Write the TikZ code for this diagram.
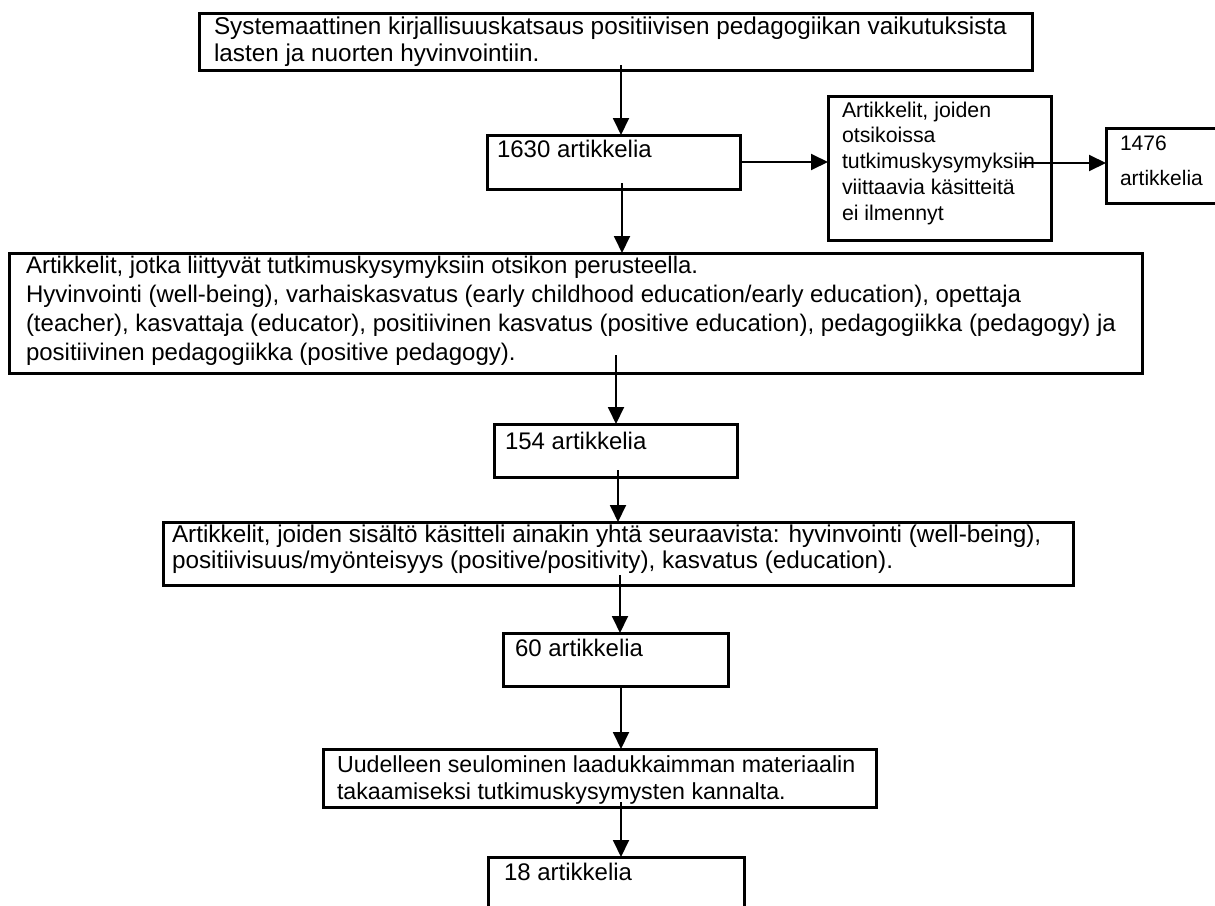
\documentclass[tikz,border=0pt]{standalone}
\usepackage{fontspec}
\setmainfont{Liberation Sans}
\usetikzlibrary{arrows.meta,fit}
% left-aligned block of lines whose baseline is the first line
\newcommand\rows[1]{\begin{tabular}[t]{@{}l@{}}#1\end{tabular}}
\begin{document}
\begin{tikzpicture}[x=1pt,y=-1pt,
  box/.style={draw=black, line width=3pt, inner sep=0pt, outer sep=0pt},
  txt/.style={anchor=base west, inner sep=0pt, outer sep=0pt, text=black},
  big/.style={txt, font=\fontsize{24}{#1}\selectfont},
  arr/.style={draw=black, line width=1.9pt, -{Triangle[width=16pt,length=17pt]}}]
\useasboundingbox (0,0) rectangle (1215,905);
\clip (0,0) rectangle (1215,905);
\fill[white] (0,0) rectangle (1215,905);

% boxes
\node[box, fit={(199,13) (1032,70)}] (b1) {};
\node[box, fit={(487,135) (740,189)}] (b1630) {};
\node[box, fit={(828,96) (1051,240)}] (bnarrow) {};
\node[box, fit={(1106,128) (1245,203)}] (b1476) {};
\node[box, fit={(9,253) (1142,373)}] (b3) {};
\node[box, fit={(494,424) (737,477)}] (b154) {};
\node[box, fit={(163,522) (1073,585)}] (b5) {};
\node[box, fit={(503,633) (728,686)}] (b60) {};
\node[box, fit={(323,749) (876,807)}] (b7) {};
\node[box, fit={(488,857) (744,930)}] (b18) {};

% texts
\node[txt, font=\fontsize{24.3}{27}\selectfont] (t1) at (214,34) {\rows{Systemaattinen kirjallisuuskatsaus positiivisen pedagogiikan vaikutuksista\\lasten ja nuorten hyvinvointiin.}};
\node[big=27pt] (t1630) at (497,157) {1630 artikkelia};
\node[txt, font=\fontsize{21.3}{25.8}\selectfont] (tnarrow) at (842,117) {\rows{Artikkelit, joiden\\otsikoissa\\tutkimuskysymyksiin\\viittaavia käsitteitä\\ei ilmennyt}};
\node[txt, font=\fontsize{21}{35}\selectfont] (t1476) at (1120,150) {\rows{1476\\artikkelia}};
\node[big=29pt] (t3) at (26,273) {\rows{Artikkelit, jotka liittyvät tutkimuskysymyksiin otsikon perusteella.\\Hyvinvointi (well-being), varhaiskasvatus (early childhood education/early education), opettaja\\(teacher), kasvattaja (educator), positiivinen kasvatus (positive education), pedagogiikka (pedagogy) ja\\positiivinen pedagogiikka (positive pedagogy).}};
\node[big=27pt] (t154) at (505,449) {154 artikkelia};
\node[txt, font=\fontsize{24.3}{26}\selectfont] (t5) at (172,542) {\rows{Artikkelit, joiden sisältö käsitteli ainakin yhtä seuraavista: hyvinvointi (well-being),\\positiivisuus/myönteisyys (positive/positivity), kasvatus (education).}};
\node[big=27pt] (t60) at (515,656) {60 artikkelia};
\node[txt, font=\fontsize{23.2}{27}\selectfont] (t7) at (337,772) {\rows{Uudelleen seulominen laadukkaimman materiaalin\\takaamiseksi tutkimuskysymysten kannalta.}};
\node[big=27pt] (t18) at (504,880) {18 artikkelia};

% connectors
\coordinate (s1) at (621,65);
\coordinate (s2) at (1020,163);
\coordinate (s3) at (622,183);
\coordinate (s4) at (616,355);
\coordinate (s5) at (618,470);
\coordinate (s6) at (620,575);
\coordinate (s7) at (621,688);
\coordinate (s8) at (621,802);
\draw[arr] (s1) -- (s1 |- b1630.north);
\draw[arr] ([xshift=2pt]b1630.east) -- (b1630.east -| bnarrow.west);
\draw[arr] (s2) -- (s2 -| b1476.west);
\draw[arr] (s3) -- (s3 |- b3.north);
\draw[arr] (s4) -- (s4 |- b154.north);
\draw[arr] (s5) -- (s5 |- b5.north);
\draw[arr] (s6) -- (s6 |- b60.north);
\draw[arr] (s7) -- (s7 |- b7.north);
\draw[arr] (s8) -- (s8 |- b18.north);
\end{tikzpicture}
\end{document}
